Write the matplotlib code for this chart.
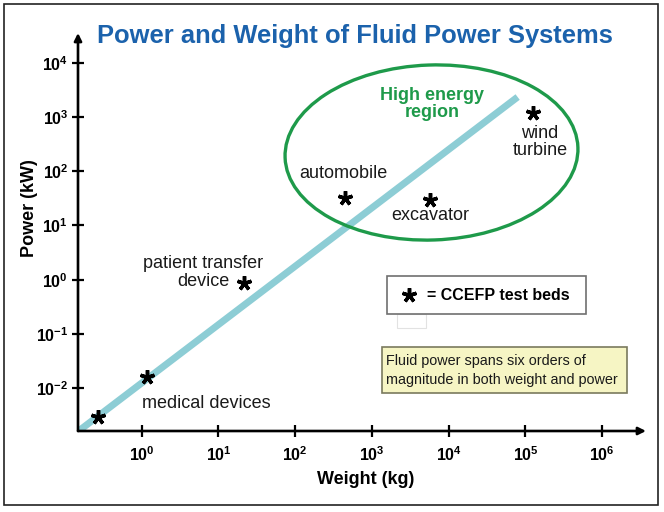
import matplotlib
matplotlib.use("Agg")
import matplotlib.pyplot as plt
from matplotlib.patches import Ellipse, Rectangle
from matplotlib.transforms import Affine2D
from matplotlib.ticker import FixedLocator, FixedFormatter, NullLocator

plt.rcParams["font.family"] = ["Liberation Sans", "DejaVu Sans"]
plt.rcParams["mathtext.fontset"] = "custom"
plt.rcParams["mathtext.rm"] = "Liberation Sans"
plt.rcParams["mathtext.bf"] = "Liberation Sans:bold"

# ── Data ─────────────────────────────────────────────────────────────────────
weight_ticks = [1e0, 1e1, 1e2, 1e3, 1e4, 1e5, 1e6]
weight_labels = [r"$\mathbf{10^{0}}$", r"$\mathbf{10^{1}}$", r"$\mathbf{10^{2}}$",
                 r"$\mathbf{10^{3}}$", r"$\mathbf{10^{4}}$", r"$\mathbf{10^{5}}$",
                 r"$\mathbf{10^{6}}$"]
power_ticks = [1e-2, 1e-1, 1e0, 1e1, 1e2, 1e3, 1e4]
power_labels = [r"$\mathbf{10^{-2}}$", r"$\mathbf{10^{-1}}$", r"$\mathbf{10^{0}}$",
                r"$\mathbf{10^{1}}$", r"$\mathbf{10^{2}}$", r"$\mathbf{10^{3}}$",
                r"$\mathbf{10^{4}}$"]

trend_weight = [0.14, 7.9e4]      # kg
trend_power = [1.5e-3, 2340]      # kW

bed_weight = [0.27, 1.17, 21.5, 443, 5650, 1.25e5]
bed_power = [0.0029, 0.016, 0.87, 32, 29.5, 1180]

W, H = 664, 512
TXT = "#1a1a1a"
BLUE = "#1b62ac"
GREEN = "#1e9a4a"
TEAL = "#8dcdd5"

fig = plt.figure(figsize=(W / 100, H / 100), dpi=100)
ax = fig.add_axes([78 / W, 1 - 431 / H, (646 - 78) / W, (431 - 33) / H])

# pixel-space helpers (image coords, y down)
pix = Affine2D().scale(1 / fig.dpi) + fig.dpi_scale_trans
def P(x, y):
    return (x, H - y)

ax.set_xscale("log")
ax.set_yscale("log")
ax.set_xlim(10 ** -0.83, 10 ** 6.57)
ax.set_ylim(10 ** -2.79, 10 ** 4.55)
for sp in ax.spines.values():
    sp.set_visible(False)
ax.patch.set_alpha(0)

ax.xaxis.set_major_locator(FixedLocator(weight_ticks))
ax.xaxis.set_major_formatter(FixedFormatter(weight_labels))
ax.yaxis.set_major_locator(FixedLocator(power_ticks))
ax.yaxis.set_major_formatter(FixedFormatter(power_labels))
ax.xaxis.set_minor_locator(NullLocator())
ax.yaxis.set_minor_locator(NullLocator())
ax.tick_params(axis="x", direction="inout", length=8, width=1.6, pad=6,
               labelsize=11.5, colors="black")
ax.tick_params(axis="y", direction="inout", length=8, width=1.6, pad=3,
               labelsize=11.5, colors="black")

# axes with arrow heads
arrow = dict(arrowstyle="-|>", lw=1.9, color="black", mutation_scale=11,
             shrinkA=0, shrinkB=0)
ax.annotate("", xy=(1, 0), xytext=(0, 0), xycoords="axes fraction",
            arrowprops=arrow, annotation_clip=False)
ax.annotate("", xy=(0, 1), xytext=(0, 0), xycoords="axes fraction",
            arrowprops=arrow, annotation_clip=False)

# trend band
ax.plot(trend_weight, trend_power, color=TEAL, lw=5.0, solid_capstyle="butt",
        zorder=1)

# test beds
ax.plot(bed_weight, bed_power, linestyle="none", marker=(5, 2, 0),
        markersize=10.5, markeredgewidth=2.5, color="black", zorder=3)

# high energy region
ell = Ellipse(P(431.5, 152.5), 293, 175, angle=2, transform=pix, fill=False,
              edgecolor=GREEN, lw=2.4, zorder=2)
fig.add_artist(ell)

def label(x, y, s, **kw):
    fig.text(x / W, 1 - y / H, s, transform=fig.transFigure, **kw)

label(142, 403, "medical devices", fontsize=13, color=TXT, ha="left", va="center")
label(203, 272.5, "patient transfer\ndevice", fontsize=13, color=TXT,
      ha="center", va="center", multialignment="center", linespacing=1.05)
label(343, 173, "automobile", fontsize=13, color=TXT, ha="center", va="center")
label(430, 215, "excavator", fontsize=13, color=TXT, ha="center", va="center")
label(540, 142, "wind\nturbine", fontsize=13, color=TXT, ha="center",
      va="center", multialignment="center", linespacing=1.0)
label(432, 104, "High energy\nregion", fontsize=13, color=GREEN,
      fontweight="bold", ha="center", va="center", multialignment="center",
      linespacing=0.95)

# legend box
fig.add_artist(Rectangle(P(397, 328), 29, 14, transform=pix, fill=False,
                         edgecolor="#e2e2e2", lw=0.8, zorder=1))
fig.add_artist(Rectangle(P(387, 314), 586 - 387, 314 - 276, transform=pix,
                         facecolor="white", edgecolor="#707070", lw=1.2, zorder=2))
fig.add_artist(plt.Line2D([409], [H - 295], transform=pix, marker=(5, 2, 0),
                          markersize=10.5, markeredgewidth=2.5, color="black",
                          linestyle="none", zorder=3))
label(427, 295, "= CCEFP test beds", fontsize=11.5, fontweight="bold",
      color="black", ha="left", va="center", zorder=3)

# note box
fig.add_artist(Rectangle(P(382, 393), 627 - 382, 393 - 347, transform=pix,
                         facecolor="#f6f5c4", edgecolor="#7a7a5e", lw=1.2, zorder=2))
label(386, 370.5, "Fluid power spans six orders of\nmagnitude in both weight and power",
      fontsize=10.4, color=TXT, ha="left", va="center", linespacing=1.45, zorder=3)

# titles
label(355, 36, "Power and Weight of Fluid Power Systems", fontsize=18.4,
      fontweight="bold", color=BLUE, ha="center", va="center")
label(366, 480, "Weight (kg)", fontsize=13, fontweight="bold", color="black",
      ha="center", va="center")
label(29, 208, "Power (kW)", fontsize=13, fontweight="bold", color="black",
      ha="center", va="center", rotation=90)

# outer frame
fig.add_artist(Rectangle(P(4, 505), 654, 501, transform=pix, fill=False,
                         edgecolor="#222222", lw=1.2))

fig.savefig("out.png", dpi=100)
